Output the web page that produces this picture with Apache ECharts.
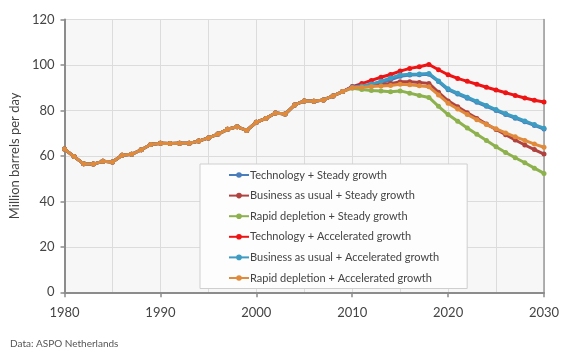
<!DOCTYPE html>
<html><head><meta charset="utf-8">
<script src="https://cdn.jsdelivr.net/npm/echarts@6/dist/echarts.min.js"></script>
<style>html,body{margin:0;padding:0;background:#fff}#c{width:570px;height:356px}</style>
</head><body><div id="c"></div>
<script>
const years = [];
for (let y = 1980; y <= 2030; y++) years.push(y);

const history = [63.0,59.7,56.5,56.4,57.6,57.3,60.3,60.7,62.7,65.0,65.6,65.5,65.6,65.6,66.5,67.9,69.6,71.7,72.8,71.2,74.8,76.5,78.9,78.4,82.4,84.2,84.0,84.6,86.4,88.3];

const techSteady   = [90.3,90.6,91.2,92.2,93.5,95.0,95.6,95.7,95.9,92.7,89.1,87.2,85.4,83.6,81.8,80.0,78.2,76.6,75.0,73.4,71.8];
const busSteady    = [90.2,90.4,90.8,91.3,91.8,92.6,92.6,92.3,91.9,88.0,84.2,81.6,79.0,76.5,74.0,71.6,69.3,67.0,64.8,62.8,60.8];
const rapidSteady  = [89.8,89.2,88.8,88.5,88.2,88.6,87.6,86.6,85.7,81.8,78.2,75.2,72.3,69.5,66.8,64.0,61.5,59.2,57.0,54.6,52.3];
const techAccel    = [90.5,91.8,93.2,94.6,95.8,97.3,98.5,99.2,100.2,97.9,95.7,94.1,92.8,91.5,90.2,89.0,87.8,86.6,85.5,84.5,83.7];
const busAccel     = [90.3,90.8,91.6,92.8,94.3,95.6,95.9,96.0,96.3,93.0,89.5,87.6,85.8,84.0,82.2,80.4,78.6,77.0,75.4,73.8,72.2];
const rapidAccel   = [90.0,90.2,90.5,90.7,91.0,91.5,91.3,90.9,90.4,86.8,83.2,80.6,78.2,75.9,73.8,71.9,70.1,68.4,66.8,65.2,63.8];

const seriesNames = ["Technology + Steady growth","Business as usual + Steady growth","Rapid depletion + Steady growth","Technology + Accelerated growth","Business as usual + Accelerated growth","Rapid depletion + Accelerated growth"];
const seriesData = [techSteady,busSteady,rapidSteady,techAccel,busAccel,rapidAccel];
const colors = ["#4a7dbb","#b0423f","#8db14c","#ee1414","#3d9cc2","#e08a3c"];

const FONT = "Lato";
const chart = echarts.init(document.getElementById('c'), null, {renderer:'canvas'});
chart.setOption({
  animation:false,
  backgroundColor:'#fff',
  textStyle:{fontFamily:FONT},
  grid:{left:61,right:26,top:19.5,bottom:63.7,show:true,backgroundColor:'#f7f7f7',borderWidth:0},
  legend:{
    orient:'vertical', left:200, top:164,
    padding:[5.5,28,5,28], itemGap:9.6, itemWidth:20, itemHeight:7,
    backgroundColor:'#fdfdfd', borderColor:'#cfcfcf', borderWidth:1,
    textStyle:{color:'#444',fontSize:11,fontFamily:FONT,padding:[0,0,0,-4]},
    data:seriesNames
  },
  xAxis:{
    type:'value', min:1980, max:2030, interval:10,
    axisLine:{lineStyle:{color:'#8c8c8c',width:2}},
    axisTick:{show:true,length:5,lineStyle:{color:'#8c8c8c',width:1.5}},
    axisLabel:{color:'#444',fontSize:13,margin:14,fontFamily:FONT,formatter:v=>String(v)},
    splitLine:{show:true,lineStyle:{color:'#dcdcdc',width:1}},
    minorTick:{show:false,splitNumber:2},
    minorSplitLine:{show:true,lineStyle:{color:'#dcdcdc',width:1}}
  },
  yAxis:[{
    type:'value', min:0, max:120, interval:20,
    name:'Million barrels per day', nameLocation:'middle', nameGap:37,
    nameTextStyle:{color:'#444',fontSize:13,fontFamily:FONT},
    axisLine:{show:true,lineStyle:{color:'#8c8c8c',width:2}},
    axisTick:{show:true,length:4,lineStyle:{color:'#8c8c8c',width:1.5}},
    axisLabel:{color:'#444',fontSize:13,margin:10,fontFamily:FONT},
    splitLine:{show:true,lineStyle:{color:'#dcdcdc',width:1}}
  },{
    type:'value', min:0, max:120, interval:20, position:'right',
    axisLine:{show:true,lineStyle:{color:'#9a9a9a',width:1.5}},
    axisTick:{show:false}, axisLabel:{show:false}, splitLine:{show:false}
  }],
  graphic:[{type:'text',left:10,top:339,style:{text:'Data: ASPO Netherlands',fill:'#555',font:'10px '+FONT}}],
  series: seriesNames.map((n,i)=>({
    name:n, type:'line', yAxisIndex:0,
    data: years.map((y,k)=>[y, k<history.length ? history[k] : seriesData[i][k-history.length]]),
    symbol:'circle', symbolSize:5, showSymbol:true,
    lineStyle:{width:3,color:colors[i]}, itemStyle:{color:colors[i]},
    z:2+i
  }))
});
</script></body></html>
